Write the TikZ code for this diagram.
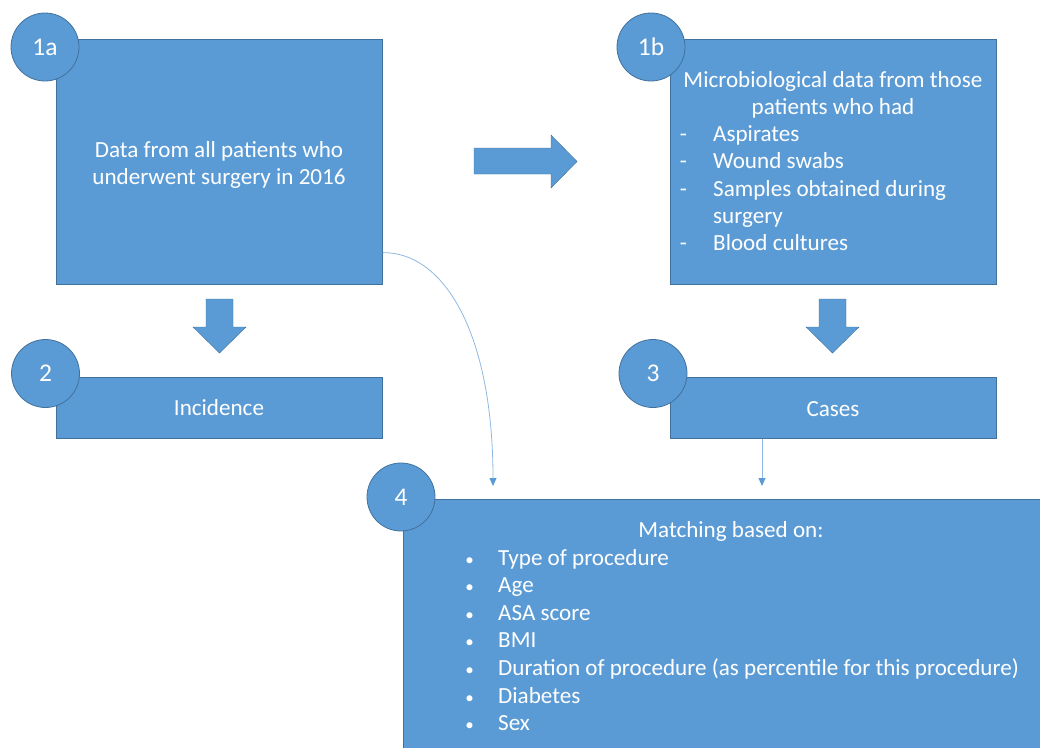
\documentclass[tikz,border=0pt]{standalone}
\usepackage{fontspec}
\setmainfont{Carlito}
\usetikzlibrary{arrows.meta}
\definecolor{boxblue}{HTML}{5B9BD5}
\definecolor{edgeblue}{HTML}{41719C}
\definecolor{linkblue}{HTML}{8FB9E3}
\definecolor{tipblue}{HTML}{5B9BD5}
\begin{document}
\begin{tikzpicture}[x=1pt,y=-1pt,
  box/.style={draw=edgeblue, line width=0.6pt, fill=boxblue, inner sep=0pt, anchor=north west},
  numcircle/.style={circle, draw=edgeblue, line width=0.8pt, fill=boxblue, minimum size=68pt, inner sep=0pt, text=white, font=\fontsize{25.5}{30}\selectfont},
  txt/.style={text=white, font=\fontsize{23.1}{27}\selectfont, inner sep=0pt},
  bul/.style={text=white, font=\fontsize{17}{20}\selectfont, inner sep=0pt},
  blockarrow/.style={fill=boxblue, draw=edgeblue, line width=0.4pt},
  link/.style={draw=linkblue, line width=0.8pt, -{Triangle[width=7pt,length=8pt,color=tipblue]}}
]
\useasboundingbox (0,0) rectangle (1040,747);
\clip (0,0) rectangle (1040,747);
% boxes
\node[box, minimum width=326pt, minimum height=245pt] (b1a) at (56,39) {};
\node[box, minimum width=326pt, minimum height=245pt] (b1b) at (670,39) {};
\node[box, minimum width=326pt, minimum height=61pt] (b2) at (56,377) {};
\node[box, minimum width=326pt, minimum height=61pt] (b3) at (670,377) {};
\node[box, minimum width=660pt, minimum height=270pt] (b4) at (403,499) {};
% block arrows
\path[blockarrow] (474,148) -- (551,148) -- (551,135) -- (577,161.5) -- (551,188) -- (551,174) -- (474,174) -- cycle;
\path[blockarrow] (206,299) -- (233,299) -- (233,327) -- (246,327) -- (219.5,353) -- (193,327) -- (206,327) -- cycle;
\path[blockarrow] (819,299) -- (846,299) -- (846,327) -- (859,327) -- (832.5,353) -- (806,327) -- (819,327) -- cycle;
% connectors
\coordinate (e4a) at (493,486);
\coordinate (e4b) at (762,486);
\draw[link] ([yshift=32pt]b1a.south east) .. controls (445,252) and (493,335) .. (e4a);
\draw[link] (b3.south -| e4b) -- (e4b);
% number circles
\node[numcircle] (c1a) at (45,47) {1a};
\node[numcircle] (c1b) at (651,47) {1b};
\node[numcircle] (c2) at (45.5,373.5) {2};
\node[numcircle] (c3) at (653,373.5) {3};
\node[numcircle] (c4) at (401,497) {4};
% texts
\node[txt, anchor=base] (t1a1) at (219,157) {Data from all patients who};
\node[txt, anchor=base] (t1a2) at (219,184) {underwent surgery in 2016};
\node[txt, anchor=base] (t2) at (219,415) {Incidence};
\node[txt, anchor=base] (t3) at (833,416) {Cases};
\node[txt, anchor=base] (t1b1) at (833,87) {Microbiological data from those};
\node[txt, anchor=base] (t1b2) at (833,114.3) {patients who had};
\node[txt, anchor=base] (d1) at (683.5,141.6) {-};
\node[txt, anchor=base west] (l1) at (713,141.6) {Aspirates};
\node[txt, anchor=base] (d2) at (683.5,168.9) {-};
\node[txt, anchor=base west] (l2) at (713,168.9) {Wound swabs};
\node[txt, anchor=base] (d3) at (683.5,196.2) {-};
\node[txt, anchor=base west] (l3) at (713,196.2) {Samples obtained during};
\node[txt, anchor=base west] (l3b) at (713,223.5) {surgery};
\node[txt, anchor=base] (d4) at (683.5,250.8) {-};
\node[txt, anchor=base west] (l4) at (713,250.8) {Blood cultures};
\node[txt, anchor=base] (t4) at (731,537.4) {Matching based on:};
\foreach \yy/\itm [count=\i] in {565/Type of procedure, 592.6/Age, 620.2/ASA score, 647.8/BMI, 675.4/Duration of procedure (as percentile for this procedure), 703/Diabetes, 730.6/Sex}{
  \node[bul, anchor=base] (bul\i) at (469.5,\yy) {•};
  \node[txt, anchor=base west] (m\i) at (498,\yy) {\itm};
}
\end{tikzpicture}
\end{document}
